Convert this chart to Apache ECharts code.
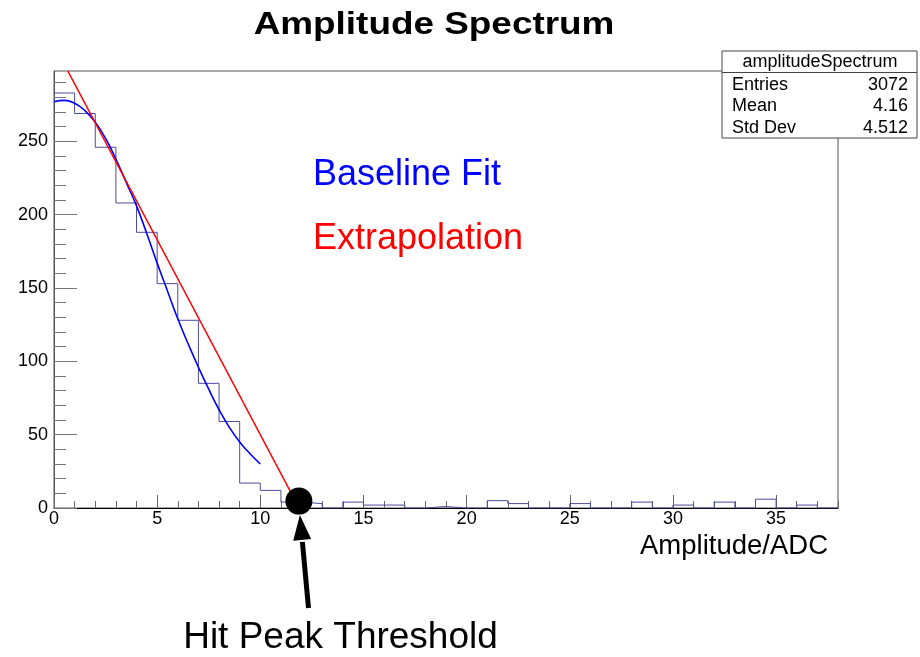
<!DOCTYPE html>
<html>
<head>
<meta charset="utf-8">
<script src="https://cdn.jsdelivr.net/npm/echarts@6/dist/echarts.min.js"></script>
<style>
html,body{margin:0;padding:0;background:#fff;}
#chart{width:920px;height:657px;}
</style>
</head>
<body>
<div id="chart"></div>
<script>
// ---- data ----
const binCounts = [283,269,246,208,188,153,128,85,59,17,12,4,3,0,4,2,2,0,1,0,0,5,3,0,0,3,0,0,4,0,2,0,4,0,6,0,2,0];
const binWidth = 1;
const fitX = [0,0.5,1,1.5,2,2.5,3,3.5,4,4.5,5,5.5,6,6.5,7,7.5,8,8.5,9,9.5,10];
const fitY = [277,278,276,271,263,252,238,222,206,187,167,148,129,112,96,81,67,55,45,37,30];
const extrapX = [0.67, 11.88];
const extrapY = [298, 0];
const thresholdPoint = [11.87, 4.7];
const xMajorTicks = [0,5,10,15,20,25,30,35];
const xMinorTicks = Array.from({length:39},(_, i)=>i);
const yMajorTicks = [0,50,100,150,200,250];
const yMinorTicks = Array.from({length:30},(_, i)=>i*10);
const statsTitle = 'amplitudeSpectrum';
const statsRows = [['Entries','3072'],['Mean','4.16'],['Std Dev','4.512']];
const xMax = 38, yMax = 298;

const FONT = 'Liberation Sans, Arial, Helvetica, sans-serif';
const histData = binCounts.map((v,i)=>[i*binWidth, v]);
histData.push([binCounts.length*binWidth, binCounts[binCounts.length-1]]);
const fitData = fitX.map((x,i)=>[x, fitY[i]]);
const extrapData = extrapX.map((x,i)=>[x, extrapY[i]]);

const chart = echarts.init(document.getElementById('chart'), null, {renderer:'canvas'});
const axisCommonX = {type:'value', min:0, max:xMax, splitLine:{show:false}};
const axisCommonY = {type:'value', min:0, max:yMax, splitLine:{show:false}};

chart.setOption({
  backgroundColor:'#fff',
  animation:false,
  grid:{left:54, right:82, top:71, bottom:149, show:true, borderColor:'#555', borderWidth:1, backgroundColor:'transparent'},
  xAxis:[
    Object.assign({}, axisCommonX, {
      position:'bottom',
      axisLine:{show:true, lineStyle:{color:'#000', width:1}},
      axisTick:{show:true, inside:true, length:13, customValues:xMajorTicks, lineStyle:{color:'#666', width:1}},
      axisLabel:{show:true, customValues:xMajorTicks, fontFamily:FONT, fontSize:18, color:'#000', margin:2}
    }),
    Object.assign({}, axisCommonX, {
      position:'bottom',
      axisLine:{show:false},
      axisTick:{show:true, inside:true, length:7, customValues:xMinorTicks, lineStyle:{color:'#666', width:1}},
      axisLabel:{show:false}
    })
  ],
  yAxis:[
    Object.assign({}, axisCommonY, {
      position:'left',
      axisLine:{show:true, lineStyle:{color:'#555', width:1}},
      axisTick:{show:true, inside:true, length:23, customValues:yMajorTicks, lineStyle:{color:'#777', width:1}},
      axisLabel:{show:true, customValues:yMajorTicks, fontFamily:FONT, fontSize:18, color:'#000', margin:6}
    }),
    Object.assign({}, axisCommonY, {
      position:'left',
      axisLine:{show:false},
      axisTick:{show:true, inside:true, length:12, customValues:yMinorTicks, lineStyle:{color:'#777', width:1}},
      axisLabel:{show:false}
    })
  ],
  series:[
    {type:'line', xAxisIndex:0, yAxisIndex:0, data:histData, step:'end', symbol:'none',
      lineStyle:{color:'#4b4b9c', width:1}, z:2},
    {type:'line', xAxisIndex:0, yAxisIndex:0, data:fitData, smooth:true, symbol:'none',
      lineStyle:{color:'#0000ff', width:1.6}, z:3},
    {type:'line', xAxisIndex:0, yAxisIndex:0, data:extrapData, symbol:'none',
      lineStyle:{color:'#ff0000', width:1.6}, z:4},
    {type:'scatter', xAxisIndex:0, yAxisIndex:0, data:[thresholdPoint], symbol:'circle', symbolSize:27,
      itemStyle:{color:'#000', opacity:1}, z:5, clip:false}
  ]
});

// annotations positioned from the data scale
const tip = chart.convertToPixel({xAxisIndex:0, yAxisIndex:0}, [thresholdPoint[0], 0]);
const tipX = tip[0] + 1, tipY = tip[1] + 7;
const tailX = tipX + 8.6, tailY = tipY + 93;
const len = Math.hypot(tailX-tipX, tailY-tipY);
const dx = (tailX-tipX)/len, dy = (tailY-tipY)/len;
const baseX = tipX + dx*25, baseY = tipY + dy*25;
const px = -dy, py = dx;

const graphics = [
  {type:'text', x:434, y:25, scaleX:1.19, originX:0, originY:0,
    style:{text:'Amplitude Spectrum', font:'bold 31px '+FONT, fill:'#000', align:'center', verticalAlign:'middle'}},
  {type:'text', x:313, y:175.5, style:{text:'Baseline Fit', font:'36px '+FONT, fill:'#0000ff', align:'left', verticalAlign:'middle'}},
  {type:'text', x:313, y:239.5, style:{text:'Extrapolation', font:'36px '+FONT, fill:'#ff0000', align:'left', verticalAlign:'middle'}},
  {type:'text', x:828, y:546, style:{text:'Amplitude/ADC', font:'27.5px '+FONT, fill:'#000', align:'right', verticalAlign:'middle'}},
  {type:'text', x:340.5, y:638, style:{text:'Hit Peak Threshold', font:'37px '+FONT, fill:'#000', align:'center', verticalAlign:'middle'}},
  {type:'line', shape:{x1:baseX+dx*2, y1:baseY+dy*2, x2:tailX, y2:tailY}, style:{stroke:'#000', lineWidth:5}},
  {type:'polygon', shape:{points:[[tipX,tipY],[baseX+px*9, baseY+py*9],[baseX-px*9, baseY-py*9]]}, style:{fill:'#000'}},
  // stats box
  {type:'rect', shape:{x:722, y:51, width:195, height:87}, style:{fill:'#fff', stroke:'#444', lineWidth:1}, z:10},
  {type:'line', shape:{x1:722, y1:72.5, x2:917, y2:72.5}, style:{stroke:'#444', lineWidth:1}, z:11},
  {type:'text', x:820, y:62, style:{text:statsTitle, font:'18px '+FONT, fill:'#000', align:'center', verticalAlign:'middle'}, z:11},
];
statsRows.forEach((r, i)=>{
  const yy = 85 + i*21.5;
  graphics.push({type:'text', x:732, y:yy, style:{text:r[0], font:'18px '+FONT, fill:'#000', align:'left', verticalAlign:'middle'}, z:11});
  graphics.push({type:'text', x:908, y:yy, style:{text:r[1], font:'18px '+FONT, fill:'#000', align:'right', verticalAlign:'middle'}, z:11});
});
chart.setOption({graphic:graphics});
</script>
</body>
</html>
